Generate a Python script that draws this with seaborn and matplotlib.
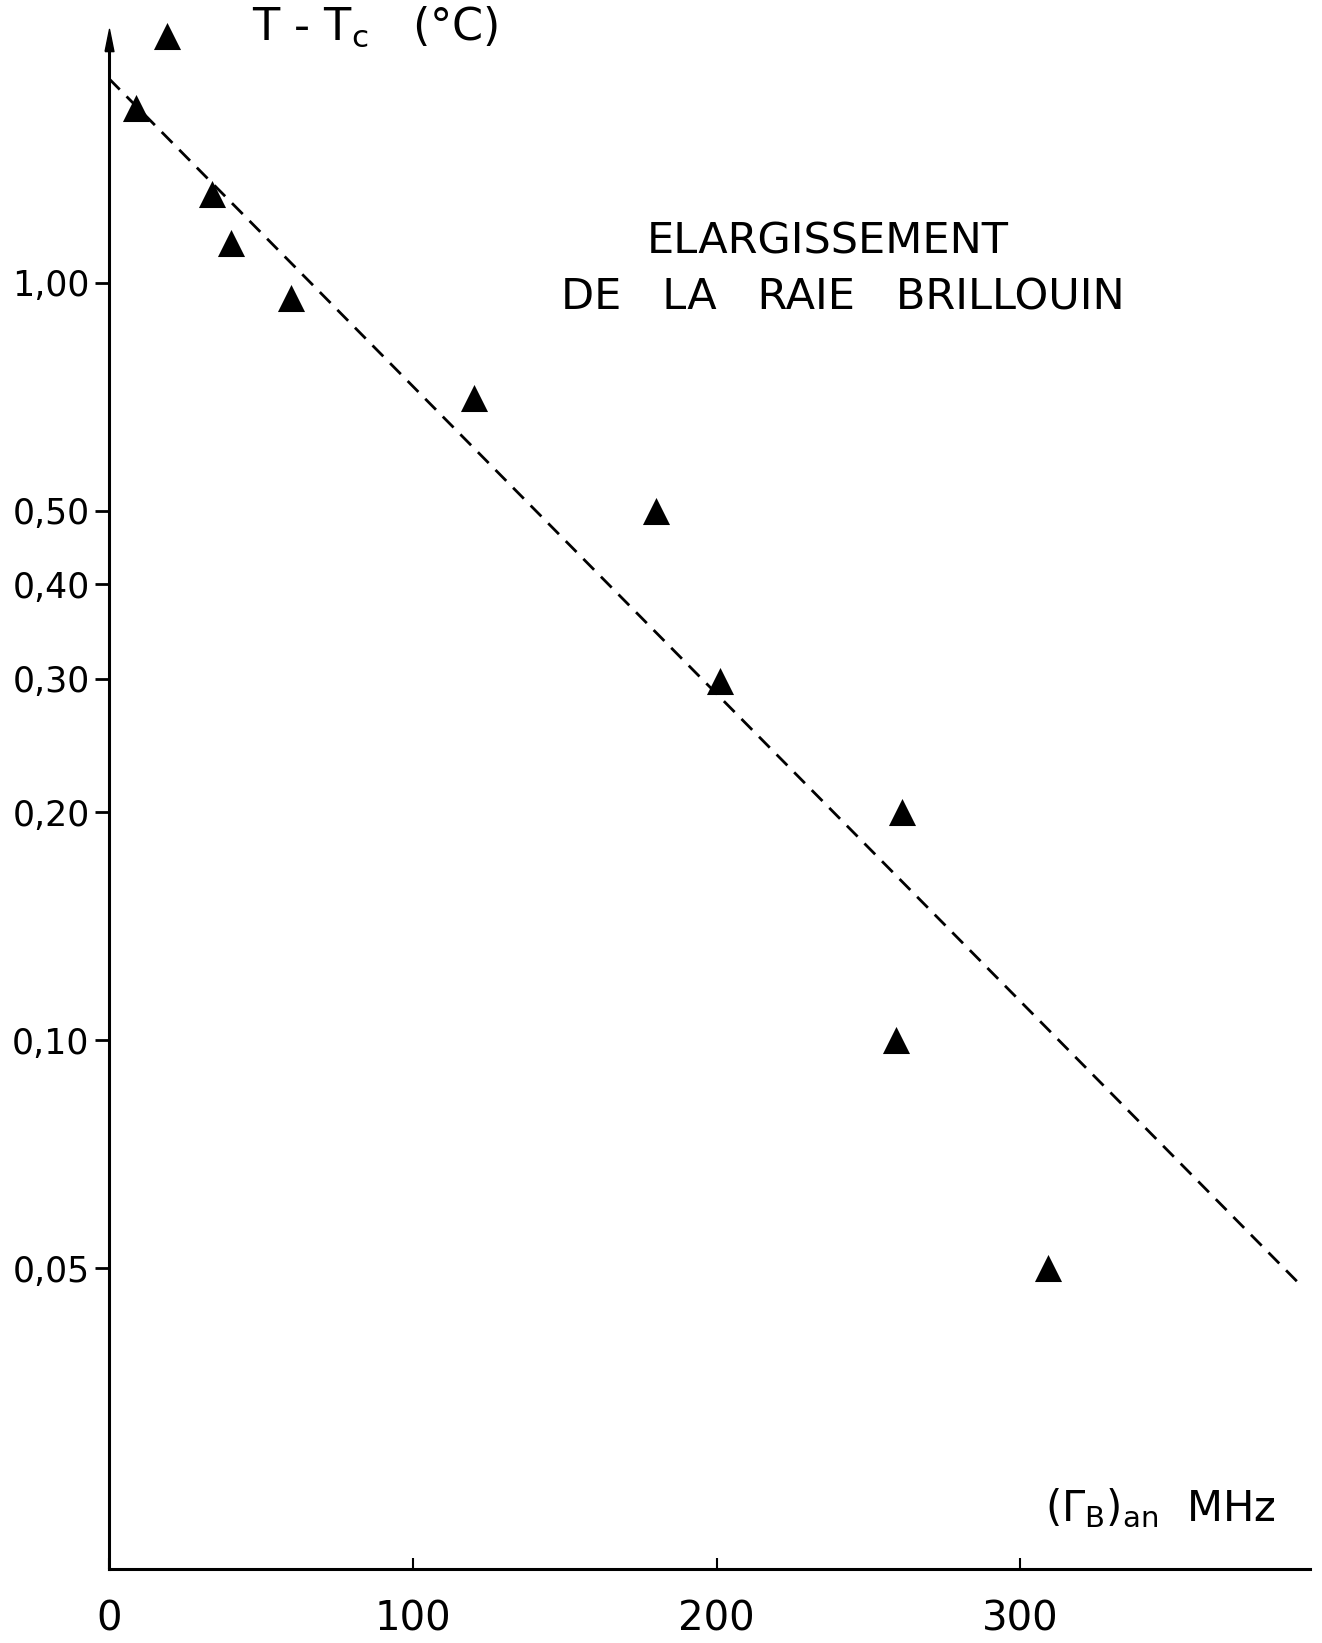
import matplotlib
matplotlib.use("Agg")
import matplotlib.pyplot as plt
import seaborn as sns
import pandas as pd

# ---- data ----
gamma_mhz = [19, 9, 34, 40, 60, 120, 180, 201, 261, 259, 309]
delta_t = [2.12, 1.70, 1.31, 1.13, 0.955, 0.705, 0.50, 0.298, 0.20, 0.10, 0.050]
fit_x = [0, 392]
fit_y = [1.86, 0.0476]
x_ticks = [0, 100, 200, 300]
x_tick_labels = ["0", "100", "200", "300"]
y_ticks = [1.0, 0.5, 0.4, 0.3, 0.2, 0.1, 0.05]
y_tick_labels = ["1,00", "0,50", "0,40", "0,30", "0,20", "0,10", "0,05"]
title_lines = ["ELARGISSEMENT", "DE   LA   RAIE   BRILLOUIN"]
y_label = r"T - T$_\mathregular{c}$   (°C)"
x_label = r"($\mathregular{\Gamma_B}$)$_\mathregular{an}$  MHz"

sns.set_style("white")
plt.rcParams["font.family"] = ["DejaVu Sans"]
plt.rcParams["mathtext.fontset"] = "dejavusans"
plt.rcParams["text.color"] = "black"
plt.rcParams["xtick.color"] = "black"
plt.rcParams["ytick.color"] = "black"

W, H = 1322, 1643
fig = plt.figure(figsize=(W / 100, H / 100), dpi=100)
left_px, right_px, bottom_px, top_px = 109, 1310, 1569, 40
ax = fig.add_axes([left_px / W, 1 - bottom_px / H,
                   (right_px - left_px) / W, (bottom_px - top_px) / H])

pts = pd.DataFrame({"x": gamma_mhz, "y": delta_t})
fit = pd.DataFrame({"x": fit_x, "y": fit_y})

sns.lineplot(data=fit, x="x", y="y", ax=ax, color="black", lw=2.0,
             linestyle=(0, (5.5, 3.5)))
sns.scatterplot(data=pts, x="x", y="y", ax=ax, marker="^", s=380,
                color="black", edgecolor="black", linewidth=0)
for c in ax.collections:
    c.set_clip_on(False)

ax.set_yscale("log")
ax.set_xlim(0, 395.3)
ax.set_ylim(0.02004, 2.092)
ax.minorticks_off()
ax.set_yticks(y_ticks)
ax.set_yticklabels(y_tick_labels)
ax.set_xticks(x_ticks)
ax.set_xticklabels(x_tick_labels)
ax.set_xlabel("")
ax.set_ylabel("")

for s in ["top", "right"]:
    ax.spines[s].set_visible(False)
for s in ["left", "bottom"]:
    ax.spines[s].set_linewidth(2.2)
    ax.spines[s].set_color("black")

ax.tick_params(axis="y", direction="out", length=10, width=2, pad=4,
               labelsize=25, left=True, colors="black")
ax.tick_params(axis="x", direction="in", length=8, width=1.5, pad=22,
               labelsize=29, bottom=True, colors="black")

# axis arrows
up_arrow = [(-0.4, -1), (0, 1), (0.4, -1), (-0.4, -1)]
ax.plot([0], [1], marker=up_arrow, markersize=16, color="black",
        transform=ax.get_xaxis_transform(), clip_on=False)
ax.plot([1], [0], marker=">", markersize=16, color="black",
        transform=ax.get_yaxis_transform(), clip_on=False)

fig.text(375 / W, 1 - 27 / H, y_label, fontsize=32, ha="center", va="center",
         color="black")
fig.text(1160 / W, 1 - 1508 / H, x_label, fontsize=30, ha="center", va="center",
         color="black")
fig.text(828 / W, 1 - 242 / H, title_lines[0], fontsize=31, ha="center",
         va="center", color="black")
fig.text(843 / W, 1 - 297 / H, title_lines[1], fontsize=31, ha="center",
         va="center", color="black")

fig.savefig("out.png", dpi=100, facecolor="white")
